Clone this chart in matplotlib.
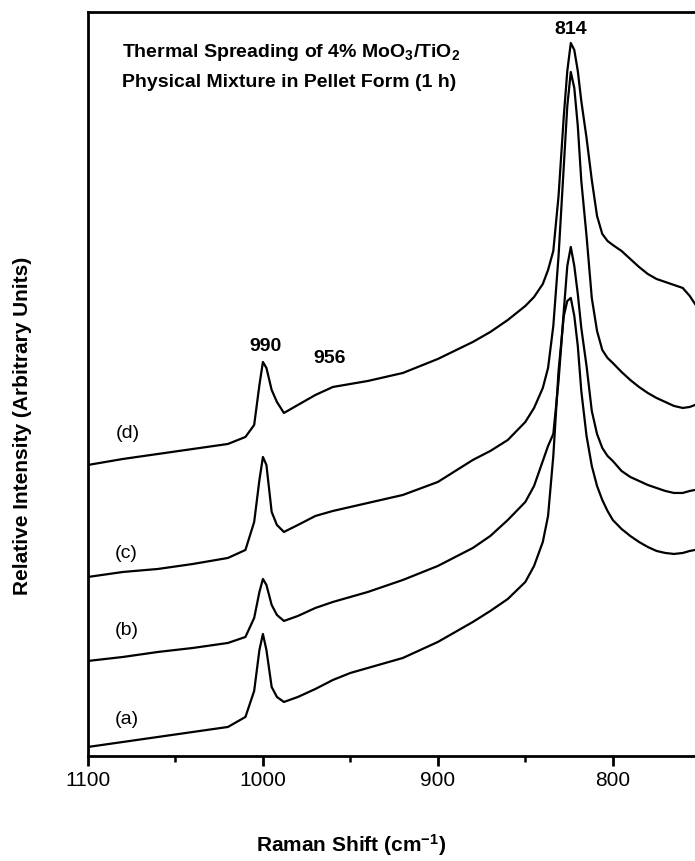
import matplotlib
matplotlib.use('Agg')
import matplotlib.pyplot as plt
from matplotlib.ticker import FixedLocator

plt.rcParams['font.family'] = ['Liberation Sans', 'DejaVu Sans']
plt.rcParams['mathtext.fontset'] = 'custom'
plt.rcParams['mathtext.rm'] = 'Liberation Sans'
plt.rcParams['mathtext.bf'] = 'Liberation Sans:bold'
plt.rcParams['mathtext.default'] = 'bf'

# Raman shift (cm-1) sampling points
raman_shift = [1100, 1080, 1060, 1040, 1020, 1010, 1005, 1002, 1000, 998,
               995, 992, 988, 980, 970, 960, 950, 940, 920, 900,
               880, 870, 860, 850, 845, 840, 837, 834, 831, 828,
               826, 824, 822, 820, 818, 815, 812, 809, 806, 803,
               800, 795, 790, 785, 780, 775, 770, 765, 760, 756, 753]

# intensities (arbitrary units, vertical offsets included as plotted)
spectrum_a = [9, 14, 19, 24, 29, 39, 65, 106, 122, 106,
              69, 59, 54, 59, 67, 76, 83, 88, 98, 114,
              134, 145, 157, 174, 190, 214, 240, 300, 385, 440,
              455, 458, 440, 410, 365, 320, 290, 270, 256, 245,
              236, 227, 220, 214, 209, 205, 203, 202, 203, 205, 206]
spectrum_b = [95, 99, 104, 108, 113, 119, 138, 164, 177, 171,
              151, 141, 135, 140, 148, 154, 159, 164, 176, 190,
              208, 220, 236, 254, 270, 295, 310, 322, 375, 445,
              490, 509, 490, 462, 428, 390, 345, 322, 308, 300,
              295, 285, 279, 275, 271, 268, 265, 263, 263, 265, 266]
spectrum_c = [179, 184, 187, 192, 198, 206, 234, 276, 299, 291,
              244, 231, 224, 231, 240, 245, 249, 253, 261, 274,
              296, 305, 316, 334, 348, 368, 388, 430, 500, 590,
              650, 684, 668, 630, 575, 520, 458, 425, 406, 398,
              393, 384, 376, 369, 363, 358, 354, 350, 348, 349, 351]
spectrum_d = [291, 297, 302, 307, 312, 319, 331, 371, 394, 388,
              366, 354, 343, 351, 361, 369, 372, 375, 383, 397,
              414, 424, 436, 450, 459, 472, 486, 505, 560, 640,
              685, 713, 706, 685, 655, 618, 576, 540, 522, 515,
              511, 505, 497, 489, 482, 477, 474, 471, 468, 460, 452]

spectra = [spectrum_a, spectrum_b, spectrum_c, spectrum_d]
curve_labels = ['(a)', '(b)', '(c)', '(d)']
label_pos = [(1078, 36), (1078, 125), (1078, 202), (1077, 322)]

peak_labels = ['814', '990', '956']
peak_pos = [(824, 726), (998.5, 409), (962, 397)]

fig = plt.figure(figsize=(6.95, 8.61), dpi=100)
ax = fig.add_axes([0.1266, 0.1220, 0.8734, 0.8641])

for s in spectra:
    ax.plot(raman_shift, s, color='black', lw=1.6)

for lab, (x, y) in zip(curve_labels, label_pos):
    ax.text(x, y, lab, fontsize=14, ha='center', va='center')

for lab, (x, y) in zip(peak_labels, peak_pos):
    ax.text(x, y, lab, fontsize=14, fontweight='bold', ha='center', va='center')

ax.text(0.056, 0.945, r'Thermal Spreading of 4% MoO$_3$/TiO$_2$',
        transform=ax.transAxes, fontsize=14, fontweight='bold', va='center')
ax.text(0.056, 0.905, 'Physical Mixture in Pellet Form (1 h)',
        transform=ax.transAxes, fontsize=14, fontweight='bold', va='center')

ax.set_xlim(1100, 753)
ax.set_ylim(0, 744)
ax.xaxis.set_major_locator(FixedLocator([1100, 1000, 900, 800]))
ax.xaxis.set_minor_locator(FixedLocator([1050, 950, 850]))
ax.tick_params(axis='x', which='major', direction='out', length=7, width=2,
               labelsize=15, pad=4)
ax.tick_params(axis='x', which='minor', direction='out', length=4.5, width=1.8)
ax.set_yticks([])
ax.spines['right'].set_visible(False)
for side in ['left', 'bottom', 'top']:
    ax.spines[side].set_linewidth(2)

fig.text(0.505, 0.019, r'Raman Shift (cm$^{-1}$)', fontsize=15,
         fontweight='bold', ha='center', va='center')
fig.text(0.032, 0.505, 'Relative Intensity (Arbitrary Units)', fontsize=15,
         fontweight='bold', rotation=90, ha='center', va='center')

fig.savefig('out.png', dpi=100)
